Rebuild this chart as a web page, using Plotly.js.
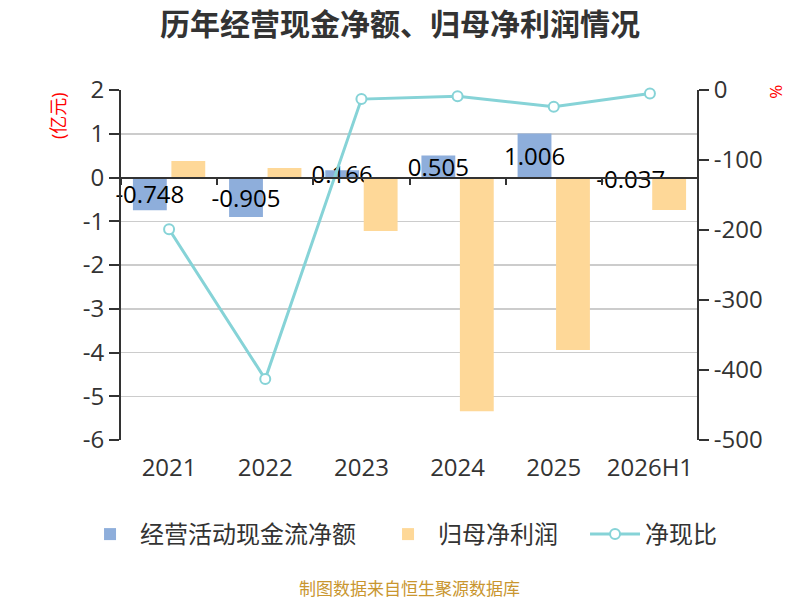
<!DOCTYPE html>
<html>
<head>
<meta charset="utf-8">
<script src="https://cdn.plot.ly/plotly-3.0.1.min.js"></script>
<style>html,body{margin:0;padding:0;background:#fff;}#chart{width:800px;height:600px;}</style>
</head>
<body>
<div id="chart"></div>
<script>
const categories = ['2021', '2022', '2023', '2024', '2025', '2026H1'];
const cashFlow = [-0.748, -0.905, 0.166, 0.505, 1.006, -0.037];
const netProfit = [0.38, 0.22, -1.22, -5.34, -3.94, -0.74];
const cashRatio = [-199, -413, -13, -9, -24, -5];
const leftTickVals = [2, 1, 0, -1, -2, -3, -4, -5, -6];
const leftTickText = ['2', '1', '0', '-1', '-2', '-3', '-4', '-5', '-6'];
const rightTickVals = [0, -100, -200, -300, -400, -500];
const rightTickText = ['0', '-100', '-200', '-300', '-400', '-500'];

const FONT = 'Open Sans, "Noto Sans CJK SC", sans-serif';

const traces = [
  {
    type: 'bar', name: '经营活动现金流净额', x: categories, y: cashFlow,
    marker: {color: '#8eaedb'}, legendwidth: 233,
    text: cashFlow.map(v => v.toFixed(3)),
    textposition: 'inside', insidetextanchor: 'middle', constraintext: 'none', textangle: 0,
    insidetextfont: {size: 24, color: '#000', family: FONT},
    cliponaxis: false, hoverinfo: 'skip'
  },
  {
    type: 'bar', name: '归母净利润', x: categories, y: netProfit,
    marker: {color: '#fed898'}, legendwidth: 142, hoverinfo: 'skip'
  },
  {
    type: 'scatter', mode: 'lines+markers', name: '净现比', x: categories, y: cashRatio,
    xaxis: 'x2', yaxis: 'y2',
    line: {color: '#86d3d7', width: 3},
    marker: {symbol: 'circle', size: 10, color: '#fff', line: {color: '#86d3d7', width: 2}},
    cliponaxis: false, hoverinfo: 'skip'
  }
];

const layout = {
  width: 800, height: 600,
  margin: {l: 121, r: 102, t: 90, b: 160, autoexpand: false},
  paper_bgcolor: '#fff', plot_bgcolor: '#fff',
  font: {family: FONT, color: '#333', size: 24},
  showlegend: true,
  title: {text: '<b>历年经营现金净额、归母净利润情况</b>', font: {size: 30, color: '#333', family: '"Noto Sans CJK SC", sans-serif'},
          x: 0.5, xanchor: 'center', y: 0.96, yanchor: 'middle', yref: 'container'},
  barmode: 'group', bargap: 0.2, bargroupgap: 0.12,
  xaxis: {
    type: 'category', range: [-0.5, 5.5], showline: false, showgrid: false, zeroline: false,
    ticks: 'outside', ticklen: 6, tickcolor: 'rgba(0,0,0,0)', tickangle: 0,
    tickfont: {size: 24, color: '#333'}, fixedrange: true
  },
  xaxis2: {
    type: 'category', range: [-0.5, 5.5], overlaying: 'x', anchor: 'free', position: 0.75,
    showline: true, linecolor: '#333', linewidth: 2, showgrid: false, zeroline: false,
    ticks: 'outside', tickson: 'boundaries', ticklen: 6, tickwidth: 2, tickcolor: '#333',
    showticklabels: false, layer: 'above traces'
  },
  yaxis: {
    range: [-6, 2], tickvals: leftTickVals, ticktext: leftTickText,
    showline: true, linecolor: '#333', linewidth: 2,
    showgrid: true, gridcolor: '#cccccc', gridwidth: 1.5, zeroline: false,
    ticks: 'outside', ticklen: 10, tickwidth: 2, tickcolor: '#333',
    tickfont: {size: 24, color: '#333'}
  },
  yaxis2: {
    range: [-500, 0], tickvals: rightTickVals, ticktext: rightTickText,
    overlaying: 'y', side: 'right', anchor: 'free', position: 1,
    showline: true, linecolor: '#333', linewidth: 2,
    showgrid: false, zeroline: false,
    ticks: 'outside', ticklen: 10, tickwidth: 2, tickcolor: '#333',
    tickfont: {size: 24, color: '#333'}
  },
  legend: {
    orientation: 'h', x: -0.071, xanchor: 'left', y: -0.27, yanchor: 'middle',
    font: {size: 24, color: '#333'}, itemwidth: 50, traceorder: 'normal',
    entrywidthmode: 'pixels'
  },
  annotations: [
    {text: '(亿元)', xref: 'paper', yref: 'paper', x: -0.109, y: 0.926, showarrow: false,
     textangle: -90, font: {size: 18, color: '#ff0000'}, xanchor: 'center', yanchor: 'middle'},
    {text: '%', xref: 'paper', yref: 'paper', x: 1.133, y: 0.994, showarrow: false,
     textangle: -90, font: {size: 17, color: '#ff0000'}, xanchor: 'center', yanchor: 'middle'},
    {text: '制图数据来自恒生聚源数据库', xref: 'paper', yref: 'paper', x: 0.5, y: -0.423, showarrow: false,
     font: {size: 17, color: '#c9962f'}, xanchor: 'center', yanchor: 'middle'}
  ]
};

Plotly.newPlot('chart', traces, layout, {staticPlot: true, displayModeBar: false});
</script>
</body>
</html>
